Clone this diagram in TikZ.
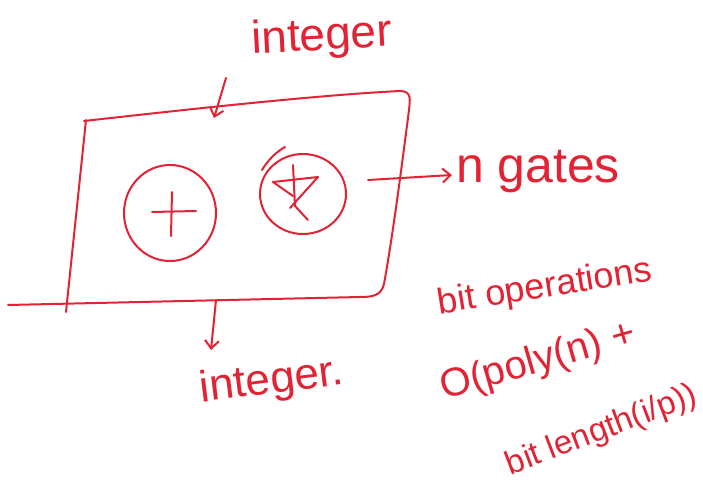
\documentclass[tikz,border=0pt]{standalone}
\usepackage{fontspec}
\setmainfont{Liberation Sans}
\usetikzlibrary{arrows.meta}
\definecolor{ink}{RGB}{226,35,52}
\begin{document}
\begin{tikzpicture}[x=1pt,y=-1pt,
  pen/.style={draw=ink,line width=2pt,line cap=round,line join=round},
  hand/.style={text=ink,inner sep=0pt,font=\fontsize{#1}{#1}\selectfont},
  arr/.style={pen,-{Straight Barb[length=8pt,width=14pt]}}]
\useasboundingbox (0,0) rectangle (703,484);
% box
\draw[pen] (86,120) -- (66,312);
\draw[pen] (84,121) .. controls (200,108) and (320,95) .. (400,91)
  .. controls (412,91) and (410,100) .. (409,110)
  .. controls (400,180) and (392,240) .. (384,284)
  .. controls (381,296) and (372,297) .. (360,297)
  -- (8,305);
% circles
\draw[pen] (170,213) ellipse [x radius=46,y radius=48];
\draw[pen] (152,212) -- (196,211);
\draw[pen] (172,192) -- (171,236);
\draw[pen] (303,194) ellipse [x radius=43,y radius=40];
\draw[pen] (262,170) .. controls (268,160) and (276,152) .. (285,147);
\draw[pen] (293,165) -- (295,206) -- (308,220);
\draw[pen] (273,182) -- (318,177) -- (290,208);
\draw[pen] (273,182) -- (293,196);
% nodes
\node[hand=46,rotate=3] (in) at (322,38) {integer};
\node[hand=44,rotate=7] (out) at (272,382) {integer.};
\node[hand=50] (gates) at (538,172) {n gates};
\node[hand=36,rotate=9] (bitop) at (545,288) {bit operations};
\node[hand=40,rotate=16] (poly) at (538,362) {O(poly(n) +};
\node[hand=33,rotate=21] (blen) at (602,431) {bit length(i/p))};
\coordinate (tin) at (226,78);
\coordinate (hin) at (214,118);
\coordinate (tout) at (216,300);
\coordinate (hout) at (211,350);
\coordinate (tg) at (368,180);
\coordinate (hg) at (452,175);
\draw[arr] (tin) -- (hin);
\draw[arr] (tout) -- (hout);
\draw[arr] (tg) -- (hg);
\end{tikzpicture}
\end{document}
